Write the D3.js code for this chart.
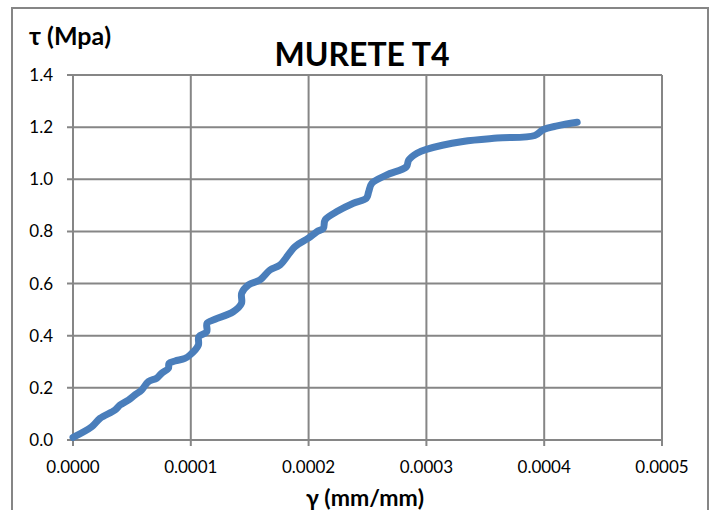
<!DOCTYPE html>
<html>
<head>
<meta charset="utf-8">
<script src="https://d3js.org/d3.v7.min.js"></script>
<style>
  body { margin: 0; background: #fff; }
  text { font-family: Lato, "Open Sans", sans-serif; fill: #000; }
</style>
</head>
<body>
<div id="chart"></div>
<script>
// strain (mm/mm) and shear stress (MPa)
var gamma = [0, 0.0000159, 0.0000229, 0.0000357, 0.0000399, 0.000047, 0.0000526, 0.0000583,
  0.000064, 0.000071, 0.0000753, 0.000081, 0.0000815, 0.0000866, 0.000095, 0.0000993,
  0.0001064, 0.0001068, 0.0001135, 0.0001138, 0.0001206, 0.000136, 0.000143, 0.0001432,
  0.000149, 0.0001588, 0.0001672, 0.0001757, 0.0001885, 0.0001998, 0.000207, 0.0002125,
  0.000214, 0.000224, 0.000238, 0.000249, 0.000251, 0.0002536, 0.000266, 0.000283,
  0.000285, 0.000292, 0.0003, 0.000331, 0.00036, 0.000392, 0.000399, 0.000411, 0.000428];
var tau = [0.01, 0.051, 0.083, 0.115, 0.134, 0.153, 0.173, 0.192,
  0.224, 0.237, 0.256, 0.275, 0.294, 0.303, 0.313, 0.326,
  0.364, 0.396, 0.415, 0.448, 0.463, 0.492, 0.524, 0.563,
  0.595, 0.614, 0.652, 0.671, 0.742, 0.774, 0.799, 0.812,
  0.844, 0.876, 0.908, 0.927, 0.952, 0.984, 1.016, 1.048,
  1.074, 1.1, 1.115, 1.145, 1.158, 1.168, 1.19, 1.205, 1.219];
var xTicks = [0, 0.0001, 0.0002, 0.0003, 0.0004, 0.0005];
var yTicks = [0, 0.2, 0.4, 0.6, 0.8, 1.0, 1.2, 1.4];

var width = 714, height = 510;
var plotL = 73, plotR = 662, plotT = 75, plotB = 440;

var svg = d3.select("#chart").append("svg")
  .attr("width", width).attr("height", height);

// outer chart frame
svg.append("rect")
  .attr("x", 12).attr("y", 8).attr("width", 696).attr("height", 530)
  .attr("fill", "#fff").attr("stroke", "#868686").attr("stroke-width", 2);

var x = d3.scaleLinear().domain([0, 0.0005]).range([plotL, plotR]);
var y = d3.scaleLinear().domain([0, 1.4]).range([plotB, plotT]);

// gridlines
svg.append("g").selectAll("line").data(xTicks).enter().append("line")
  .attr("x1", d => x(d)).attr("x2", d => x(d))
  .attr("y1", plotT).attr("y2", plotB + 6)
  .attr("stroke", "#868686").attr("stroke-width", 2);
svg.append("g").selectAll("line").data(yTicks).enter().append("line")
  .attr("x1", plotL - 6).attr("x2", plotR)
  .attr("y1", d => y(d)).attr("y2", d => y(d))
  .attr("stroke", "#868686").attr("stroke-width", 2);

// tick labels
svg.append("g").selectAll("text").data(yTicks).enter().append("text")
  .attr("x", 53).attr("y", d => y(d)).attr("dy", "0.35em")
  .attr("text-anchor", "end").style("font-size", "17px")
  .text(d => d.toFixed(1));
svg.append("g").selectAll("text").data(xTicks).enter().append("text")
  .attr("x", d => x(d)).attr("y", 473)
  .attr("text-anchor", "middle").style("font-size", "17px")
  .text(d => d.toFixed(4));

// titles
svg.append("text").attr("x", 362).attr("y", 66).attr("text-anchor", "middle")
  .style("font-size", "32px").style("font-weight", "bold").text("MURETE T4");
svg.append("text").attr("x", 29).attr("y", 45)
  .style("font-size", "25px").style("font-weight", "bold").text("τ (Mpa)");
svg.append("text").attr("x", 365).attr("y", 506).attr("text-anchor", "middle")
  .style("font-size", "23px").style("font-weight", "bold").text("γ (mm/mm)");

// the curve
var pts = gamma.map((g, i) => [g, tau[i]]);
var line = d3.line().x(d => x(d[0])).y(d => y(d[1])).curve(d3.curveCatmullRom.alpha(0.5));
svg.append("path").datum(pts)
  .attr("d", line)
  .attr("fill", "none").attr("stroke", "#4a7ebb").attr("stroke-width", 7)
  .attr("stroke-linecap", "round").attr("stroke-linejoin", "round");
</script>
</body>
</html>
